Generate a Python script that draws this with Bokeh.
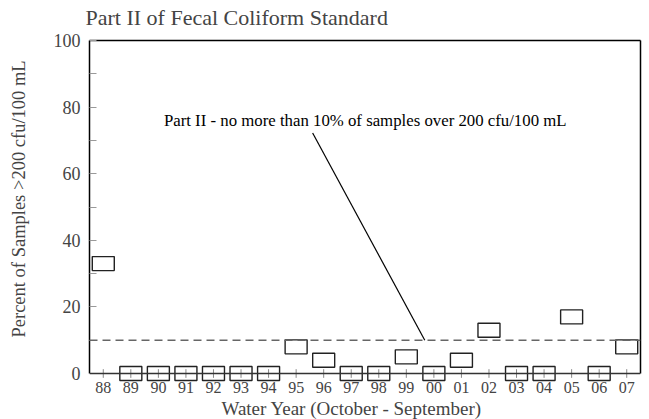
from bokeh.plotting import figure
from bokeh.models import FixedTicker, Range1d, Span, LinearAxis, Title, ColumnDataSource
from bokeh.core.properties import value
from bokeh.embed import file_html
from bokeh.resources import INLINE

years = ["88", "89", "90", "91", "92", "93", "94", "95", "96", "97",
         "98", "99", "00", "01", "02", "03", "04", "05", "06", "07"]
percent = [33, 0, 0, 0, 0, 0, 0, 8, 4, 0, 0, 5, 0, 4, 13, 0, 0, 17, 0, 8]
standard_limit = 10
y_ticks = [0, 20, 40, 60, 80, 100]
y_minor = [10, 30, 50, 70, 90]
note_text = "Part II - no more than 10% of samples over 200 cfu/100 mL"
note_pos = (2.2, 76)
pointer_x = [7.6, 11.67]
pointer_y = [72.2, 10]

FONT = "Liberation Serif"
xs = list(range(len(years)))
Y_LOW = -2.7          # small room below 0 so the boxes sitting on 0 are not clipped
TICK_HALF = 1.3       # x tick half-length in percent units

p = figure(width=649, height=419, output_backend="svg", toolbar_location=None,
           x_range=Range1d(-0.5, len(years) - 0.5), y_range=Range1d(Y_LOW, 100),
           min_border_left=89, min_border_right=9, min_border_top=40, min_border_bottom=37)
p.grid.visible = False
p.outline_line_color = None
p.background_fill_color = "white"
p.border_fill_color = "white"

xa = p.below[0]
ya = p.left[0]

# frame lines: top (its invisible tick spaces the title upward) and right
top_ax = LinearAxis(ticker=FixedTicker(ticks=[0], minor_ticks=[]), axis_line_color="black",
                    axis_line_width=1.5, major_label_standoff=0, major_tick_out=11,
                    major_tick_in=0, major_tick_line_color=None, minor_tick_line_color=None,
                    major_label_overrides={0: ""})
p.add_layout(top_ax, "above")
right_ax = LinearAxis(ticker=FixedTicker(ticks=[], minor_ticks=[]), axis_line_color="black",
                      axis_line_width=1.5, major_label_standoff=0, major_tick_out=0,
                      major_tick_in=0, bounds=(0, 100))
p.add_layout(right_ax, "right")

p.add_layout(Title(text="Part II of Fecal Coliform Standard", text_font=FONT,
                   text_font_size="22px", text_font_style="normal", align="left",
                   offset=-4, standoff=0), "above")

xa.ticker = FixedTicker(ticks=xs, minor_ticks=[])
xa.major_label_overrides = {i: y for i, y in enumerate(years)}
xa.major_label_text_font = FONT
xa.major_label_text_font_size = "16px"
xa.major_label_standoff = -1
xa.major_tick_in = 0
xa.major_tick_out = 0
xa.major_tick_line_color = None
xa.axis_line_color = None
p.add_layout(Title(text="Water Year (October - September)", text_font=FONT,
                   text_font_size="19px", text_font_style="normal", align="left",
                   offset=132, standoff=0), "below")

ya.ticker = FixedTicker(ticks=y_ticks, minor_ticks=y_minor)
ya.bounds = (0, 100)
ya.major_label_text_font = FONT
ya.major_label_text_font_size = "18px"
ya.major_label_standoff = 9
ya.major_tick_in = 7
ya.major_tick_out = 0
ya.minor_tick_in = 7
ya.minor_tick_out = 0
ya.major_tick_line_color = "#999999"
ya.minor_tick_line_color = "#999999"
ya.axis_line_color = "black"
ya.axis_line_width = 1.5

# invisible spacer between the tick labels and the y title
spacer = LinearAxis(ticker=FixedTicker(ticks=[50], minor_ticks=[]), axis_line_color=None,
                    major_label_standoff=0, major_tick_out=22, major_tick_in=0,
                    major_tick_line_color=None, minor_tick_line_color=None,
                    major_label_overrides={50: ""})
p.add_layout(spacer, "left")
p.add_layout(Title(text="Percent of Samples >200 cfu/100 mL", text_font=FONT,
                   text_font_size="18.5px", text_font_style="normal", align="left",
                   offset=45, standoff=0), "left")

# x axis line at 0 and crossing ticks
p.add_layout(Span(location=0, dimension="width", line_color="#333333", line_width=1.5))
p.segment(x0=xs, y0=[-TICK_HALF] * len(xs), x1=xs, y1=[TICK_HALF] * len(xs),
          line_color="#888888", line_width=1)

p.add_layout(Span(location=standard_limit, dimension="width", line_color="#666666",
                  line_dash="8 5", line_width=1.5))

src = ColumnDataSource(dict(x=xs, y=percent))
p.rect("x", "y", width=22, height=14, width_units="screen", height_units="screen",
       source=src, fill_color=None, line_color="#222222", line_width=1.4)

p.line(pointer_x, pointer_y, line_color="black", line_width=1.2)
p.text(x=[note_pos[0]], y=[note_pos[1]], text=[note_text], text_font=value(FONT),
       text_font_size="16.8px", text_align="left", text_baseline="middle", text_color="black")

open("out.html", "w").write(file_html(p, INLINE))
